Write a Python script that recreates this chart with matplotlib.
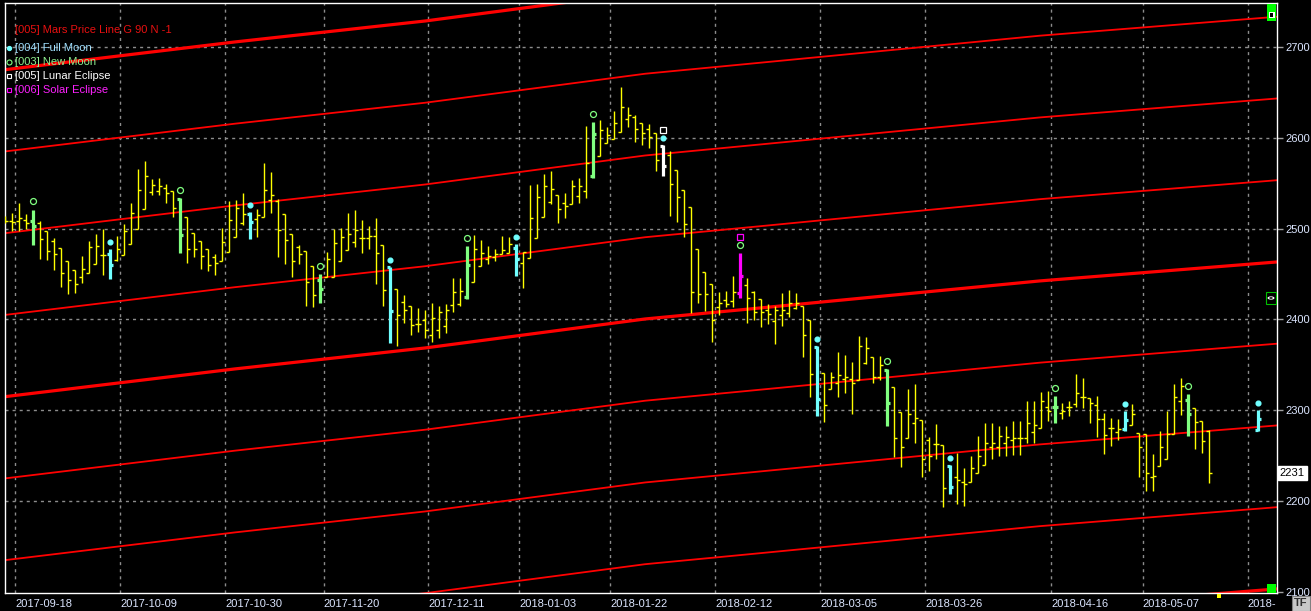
import numpy as np
import matplotlib
matplotlib.use('Agg')
import matplotlib.pyplot as plt
from matplotlib.collections import LineCollection
from matplotlib.lines import Line2D
from matplotlib.patches import Rectangle, Circle

plt.rcParams['font.family'] = ['Liberation Sans', 'DejaVu Sans']

# ---------------- data (daily OHLC, bar index = trading day) ----------------
opens = [2511, 2508, 2508, 2510, 2508, 2506, 2497, 2486, 2479, 2464,
         2454, 2447, 2451, 2461, 2471, 2472, 2465, 2471, 2483, 2500,
         2522, 2540, 2541, 2545, 2541, 2533, 2513, 2495, 2486, 2478,
         2469, 2464, 2474, 2491, 2506, 2516, 2511, 2513, 2532, 2530,
         2516, 2494, 2480, 2475, 2459, 2443, 2447, 2447, 2464, 2476,
         2485, 2490, 2490, 2492, 2482, 2458, 2434, 2419, 2415, 2395,
         2399, 2383, 2388, 2393, 2416, 2417, 2425, 2441, 2459, 2467,
         2469, 2472, 2473, 2479, 2462, 2468, 2490, 2513, 2529, 2537,
         2528, 2527, 2536, 2541, 2558, 2580, 2594, 2599, 2606, 2621,
         2623, 2616, 2610, 2605, 2591, 2581, 2565, 2543, 2524, 2478,
         2452, 2439, 2414, 2421, 2420, 2429, 2438, 2430, 2423, 2410,
         2398, 2405, 2407, 2413, 2415, 2399, 2370, 2341, 2323, 2330,
         2334, 2334, 2333, 2352, 2359, 2337, 2344, 2326, 2298, 2270,
         2286, 2289, 2267, 2263, 2262, 2239, 2227, 2221, 2221, 2231,
         2240, 2259, 2259, 2264, 2267, 2270, 2270, 2276, 2281, 2304,
         2304, 2297, 2304, 2307, 2315, 2314, 2306, 2290, 2281, 2276,
         2279, 2284, 2275, 2274, 2227, 2239, 2246, 2274, 2310, 2311,
         2303, 2288, 2277] + [None] * 6 + [2278]
highs = [2514, 2517, 2528, 2516, 2521, 2508, 2497, 2490, 2479, 2464,
         2454, 2470, 2486, 2494, 2500, 2478, 2492, 2505, 2528, 2566,
         2574, 2555, 2556, 2549, 2541, 2534, 2513, 2495, 2486, 2478,
         2472, 2501, 2530, 2532, 2539, 2518, 2522, 2572, 2562, 2533,
         2516, 2494, 2482, 2475, 2459, 2450, 2474, 2500, 2501, 2517,
         2521, 2510, 2503, 2512, 2482, 2458, 2434, 2427, 2415, 2413,
         2410, 2418, 2415, 2417, 2446, 2446, 2481, 2493, 2487, 2481,
         2478, 2492, 2491, 2483, 2474, 2548, 2549, 2560, 2563, 2537,
         2539, 2554, 2556, 2613, 2617, 2620, 2612, 2630, 2656, 2634,
         2625, 2616, 2615, 2605, 2592, 2585, 2565, 2543, 2524, 2478,
         2452, 2439, 2430, 2431, 2448, 2473, 2446, 2431, 2423, 2417,
         2415, 2429, 2432, 2429, 2415, 2399, 2371, 2341, 2342, 2364,
         2361, 2353, 2382, 2381, 2359, 2360, 2345, 2326, 2298, 2323,
         2329, 2289, 2271, 2285, 2262, 2240, 2253, 2236, 2250, 2272,
         2286, 2286, 2283, 2283, 2288, 2288, 2310, 2310, 2320, 2321,
         2316, 2308, 2310, 2340, 2336, 2314, 2316, 2297, 2292, 2290,
         2299, 2307, 2275, 2274, 2252, 2277, 2299, 2329, 2336, 2318,
         2303, 2288, 2278] + [None] * 6 + [2300]
lows = [2506, 2497, 2497, 2500, 2482, 2467, 2465, 2454, 2436, 2428,
        2429, 2440, 2451, 2461, 2449, 2445, 2464, 2471, 2483, 2500,
        2522, 2537, 2537, 2528, 2513, 2473, 2462, 2469, 2456, 2453,
        2449, 2464, 2474, 2491, 2504, 2489, 2491, 2513, 2517, 2469,
        2461, 2447, 2461, 2415, 2414, 2418, 2447, 2447, 2464, 2476,
        2480, 2473, 2478, 2439, 2415, 2374, 2371, 2396, 2383, 2386,
        2380, 2375, 2380, 2385, 2408, 2415, 2423, 2441, 2459, 2461,
        2464, 2472, 2473, 2448, 2435, 2468, 2490, 2513, 2527, 2506,
        2512, 2527, 2528, 2534, 2556, 2580, 2594, 2599, 2606, 2612,
        2595, 2592, 2589, 2563, 2558, 2514, 2507, 2491, 2407, 2418,
        2409, 2375, 2405, 2414, 2414, 2424, 2396, 2399, 2392, 2395,
        2373, 2393, 2403, 2412, 2359, 2315, 2294, 2287, 2323, 2315,
        2319, 2296, 2333, 2351, 2330, 2333, 2283, 2249, 2238, 2270,
        2264, 2227, 2233, 2246, 2194, 2208, 2197, 2195, 2221, 2231,
        2240, 2246, 2250, 2250, 2251, 2251, 2264, 2264, 2281, 2288,
        2286, 2290, 2294, 2304, 2303, 2286, 2271, 2252, 2261, 2267,
        2277, 2284, 2227, 2211, 2211, 2239, 2246, 2274, 2295, 2272,
        2257, 2253, 2220] + [None] * 6 + [2277]
closes = [2508, 2507, 2512, 2506, 2503, 2489, 2475, 2472, 2451, 2443,
          2439, 2456, 2480, 2481, 2471, 2460, 2478, 2497, 2517, 2543,
          2558, 2548, 2547, 2539, 2523, 2493, 2478, 2478, 2470, 2460,
          2462, 2485, 2510, 2523, 2516, 2507, 2515, 2543, 2537, 2498,
          2487, 2464, 2472, 2441, 2427, 2434, 2467, 2484, 2491, 2494,
          2498, 2490, 2492, 2473, 2432, 2409, 2405, 2410, 2394, 2395,
          2388, 2402, 2408, 2410, 2430, 2431, 2460, 2478, 2473, 2470,
          2472, 2476, 2483, 2467, 2474, 2512, 2535, 2547, 2544, 2522,
          2525, 2547, 2547, 2572, 2604, 2609, 2603, 2616, 2634, 2625,
          2610, 2605, 2601, 2576, 2569, 2549, 2535, 2505, 2430, 2428,
          2428, 2399, 2418, 2417, 2430, 2448, 2424, 2408, 2408, 2406,
          2410, 2410, 2418, 2418, 2383, 2340, 2312, 2306, 2337, 2339,
          2337, 2330, 2371, 2369, 2337, 2350, 2308, 2270, 2260, 2296,
          2292, 2246, 2250, 2263, 2214, 2216, 2223, 2219, 2236, 2250,
          2264, 2264, 2272, 2271, 2270, 2270, 2286, 2284, 2310, 2299,
          2304, 2299, 2304, 2319, 2315, 2308, 2290, 2273, 2281, 2279,
          2289, 2296, 2259, 2231, 2228, 2260, 2274, 2315, 2327, 2296,
          2287, 2266, 2231] + [None] * 6 + [2290]

new_moon = [4, 25, 45, 66, 84, 105, 126, 150, 169]
full_moon = [15, 35, 55, 73, 94, 116, 135, 160, 179]
lunar_eclipse = [94]
solar_eclipse = [105]
last_bar = 172

# Mars price line (base harmonic) sampled at bar positions
mars_idx = [0, 32.8, 60, 91.4, 107.8, 147.8, 181.7]
mars_base = [2315, 2345.5, 2368.6, 2400.5, 2412.6, 2442.4, 2463.3]
mars_harmonics = [-360, -270, -180, -90, 0, 90, 180, 270, 360]

tick_pos = [1.45, 16.45, 31.45, 45.5, 60.45, 73.45, 86.45, 101.45,
            116.45, 131.45, 149.45, 162.5, 177.5]
tick_labels = ['2017-09-18', '2017-10-09', '2017-10-30', '2017-11-20',
               '2017-12-11', '2018-01-03', '2018-01-22', '2018-02-12',
               '2018-03-05', '2018-03-26', '2018-04-16', '2018-05-07', '2018-']
price_ticks = [2100, 2200, 2300, 2400, 2500, 2600, 2700]

legend_items = ['[005] Mars Price Line G 90 N -1', '[004] Full Moon',
                '[003] New Moon', '[005] Lunar Eclipse', '[006] Solar Eclipse']

# ---------------- styling ----------------
YELLOW = '#FFFF00'
FM_C = '#70FFFF'
NM_C = '#80FF80'
LE_C = '#FFFFFF'
SE_C = '#FF00FF'
RED = '#FF0000'
LABEL_C = '#DCE6FF'
GRID_C = '#8C8C8C'

W, H = 1311, 611
fig = plt.figure(figsize=(W / 100, H / 100), dpi=100, facecolor='black')
ax = fig.add_axes([5 / W, (H - 593) / H, 1272 / W, 590 / H], facecolor='black')
ax.set_xlim(-0.03, 181.68)
ax.set_ylim(2098.8, 2748.4)

o = np.array(opens, dtype=float)
h = np.array(highs, dtype=float)
l = np.array(lows, dtype=float)
c = np.array(closes, dtype=float)

# grid
dash = (0, (2.2, 2.9))
for tp in tick_pos:
    ax.axvline(tp, color=GRID_C, lw=1.0, ls=dash, zorder=1)
for pt in price_ticks[1:]:
    ax.axhline(pt, color=GRID_C, lw=1.0, ls=dash, zorder=1)

# Mars price lines
mx = np.array(mars_idx)
mb = np.array(mars_base)
for hm in mars_harmonics:
    lw = 2.3 if hm % 360 == 0 else 1.3
    ax.plot(mx, mb + hm, color=RED, lw=lw, solid_capstyle='butt', zorder=2)

# OHLC bars
def bar_color(i):
    if i in solar_eclipse:
        return SE_C
    if i in lunar_eclipse:
        return LE_C
    if i in full_moon:
        return FM_C
    if i in new_moon:
        return NM_C
    return YELLOW

groups = {}
tw = 0.45
for i in range(len(o)):
    if np.isnan(h[i]):
        continue
    col = bar_color(i)
    segs = [[(i, l[i]), (i, h[i])],
            [(i - tw, o[i]), (i, o[i])],
            [(i, c[i]), (i + tw, c[i])]]
    groups.setdefault(col, []).extend(segs)
for col, segs in groups.items():
    lw = 1.0 if col == YELLOW else 2.3
    ax.add_collection(LineCollection(segs, colors=col, linewidths=lw,
                                     capstyle='butt', zorder=3))

# event markers
for i in full_moon:
    ax.plot(i, h[i] + 7.7, 'o', ms=3.4, color=FM_C, mec=FM_C, zorder=4)
for i in new_moon:
    ax.plot(i, h[i] + 9.0, 'o', ms=4.3, mfc='none', mec=NM_C, mew=0.9, zorder=4)
for i in lunar_eclipse:
    ax.plot(i, h[i] + 16.5, 's', ms=4.0, mfc='none', mec=LE_C, mew=0.9, zorder=4)
for i in solar_eclipse:
    ax.plot(i, h[i] + 17.5, 's', ms=4.0, mfc='none', mec=SE_C, mew=0.9, zorder=4)

# axes styling
for sp in ax.spines.values():
    sp.set_color('white')
    sp.set_linewidth(1.0)
ax.yaxis.tick_right()
ax.set_yticks(price_ticks)
ax.set_yticklabels([str(p) for p in price_ticks])
ax.tick_params(axis='y', colors='#A0A0A0', labelcolor=LABEL_C, labelsize=8,
               length=4, width=1, pad=2, direction='out')
ax.set_xticks(tick_pos)
ax.set_xticklabels(tick_labels)
ax.tick_params(axis='x', labelcolor=LABEL_C, labelsize=8, length=0, pad=4)
for lab in ax.get_xticklabels():
    lab.set_horizontalalignment('left')

# last price label
last_close = c[last_bar]
ax.annotate(f'{last_close:.0f}', xy=(1.0, last_close),
            xycoords=('axes fraction', 'data'), xytext=(2, 0),
            textcoords='offset points', ha='left', va='center',
            fontsize=8, color='black',
            bbox=dict(boxstyle='square,pad=0.2', fc='white', ec='white'))

# legend (top-left)
def fx(x):
    return x / W

def fy(y):
    return 1 - y / H

legend_cols = ['#E81010', '#A0E0FF', '#90F090', '#FFFFFF', '#FF20FF']
legend_y = [30, 48, 62, 76, 90]
for txt, col, yy in zip(legend_items, legend_cols, legend_y):
    fig.text(fx(15), fy(yy), txt, color=col, fontsize=8, ha='left', va='center')
fig.add_artist(Line2D([fx(8.5)], [fy(48)], marker='o', ms=2.8, color=FM_C,
                      mec=FM_C, transform=fig.transFigure))
fig.add_artist(Line2D([fx(9)], [fy(62)], marker='o', ms=3.6, mfc='none',
                      mec=NM_C, mew=0.8, transform=fig.transFigure))
fig.add_artist(Line2D([fx(9)], [fy(76)], marker='s', ms=3.4, mfc='none',
                      mec=LE_C, mew=0.8, transform=fig.transFigure))
fig.add_artist(Line2D([fx(9)], [fy(90)], marker='s', ms=3.4, mfc='none',
                      mec=SE_C, mew=0.8, transform=fig.transFigure))

# right-edge widgets
def rect_px(x0, y0, x1, y1, **kw):
    fig.add_artist(Rectangle((fx(x0), fy(y1)), fx(x1) - fx(x0), fy(y0) - fy(y1),
                             transform=fig.transFigure, **kw))

rect_px(1267, 4, 1276, 21, fc='#00FF00', ec='none')
rect_px(1268.5, 12, 1274.5, 18, fc='white', ec='none')
rect_px(1270, 13.5, 1273, 16.5, fc='black', ec='none')
rect_px(1266, 292, 1276, 304, fc='black', ec='#00C000', lw=0.8)
fig.add_artist(Circle((fx(1271), fy(298)), 3.5 / W, transform=fig.transFigure,
                      fc='white', ec='none'))
fig.add_artist(Circle((fx(1271), fy(298)), 1.8 / W, transform=fig.transFigure,
                      fc='black', ec='none'))
rect_px(1267, 584, 1276, 593, fc='#00FF00', ec='none')
rect_px(1217, 594, 1221, 598, fc='#FFFF00', ec='none')
rect_px(1292, 596, 1310, 611, fc='#C8C8C8', ec='#808080', lw=0.8)
fig.text(fx(1301), fy(603.5), 'TF', color='#303030', fontsize=8,
         ha='center', va='center', fontweight='bold')

fig.savefig('out.png', dpi=100, facecolor='black')
